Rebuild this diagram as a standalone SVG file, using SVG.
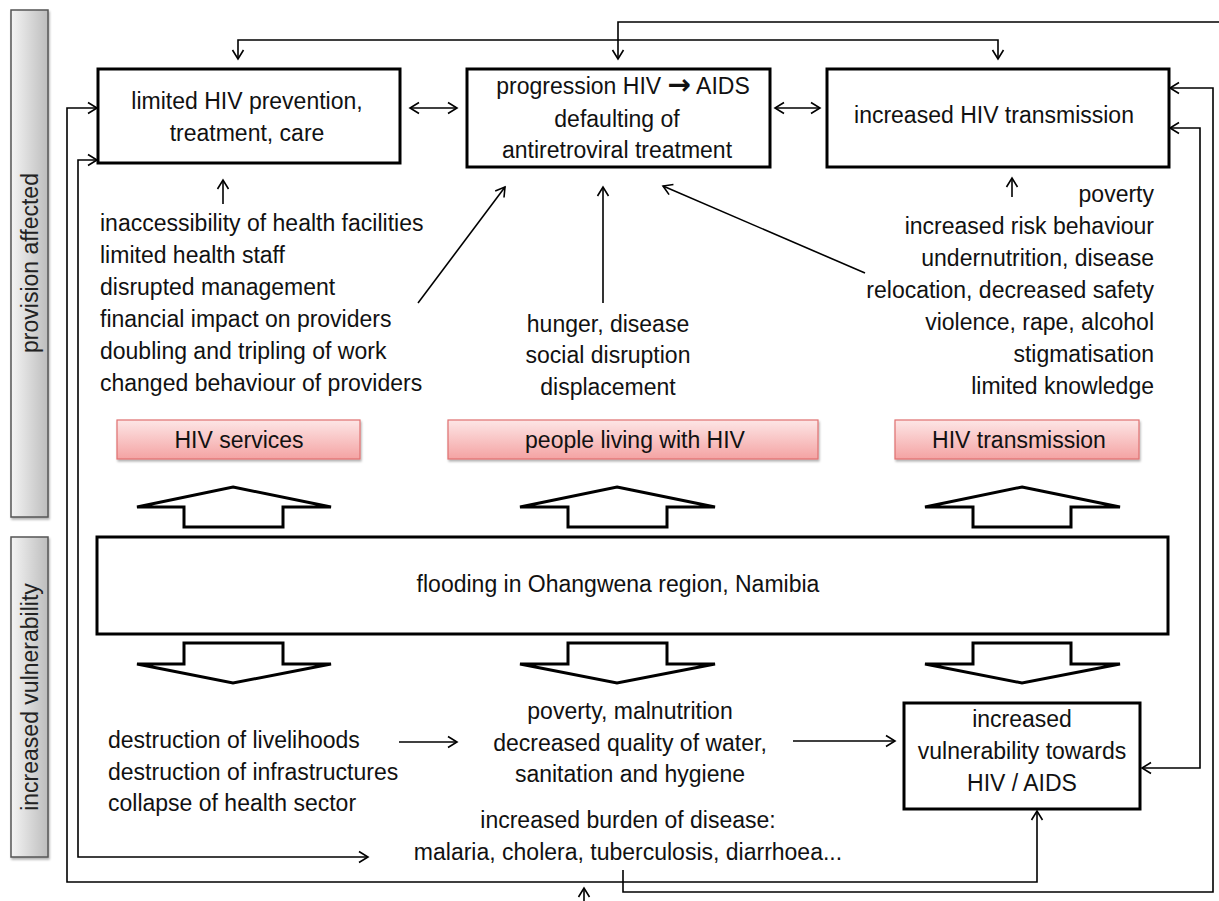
<svg xmlns="http://www.w3.org/2000/svg" width="1219" height="901" viewBox="0 0 1219 901">
<style>
  text { font-family: "Liberation Sans", Arial, Helvetica, sans-serif; font-size: 23px; fill: #111; }
  .c { text-anchor: middle; }
  .r { text-anchor: end; }
  .sym { font-family: "DejaVu Sans", sans-serif; font-weight: bold; font-size: 28px; }
  .box { fill: #fff; stroke: #000; stroke-width: 3; }
  .blk { fill: #fff; stroke: #000; stroke-width: 3; stroke-linejoin: miter; }
  .pink { fill: url(#pinkGrad); stroke: #e07070; stroke-width: 1.2; filter: url(#shadow); }
  .bar { fill: url(#grayGrad); stroke: #555; stroke-width: 1.5; filter: url(#shadow); }
  .conn { fill: none; stroke: #000; stroke-width: 1.6; }
  .side { fill: #222; }
</style>
<defs>
  <linearGradient id="pinkGrad" x1="0" y1="0" x2="0" y2="1">
    <stop offset="0" stop-color="#fde6e6"/>
    <stop offset="1" stop-color="#f4a3a3"/>
  </linearGradient>
  <linearGradient id="grayGrad" x1="0" y1="0" x2="1" y2="0">
    <stop offset="0" stop-color="#f4f4f4"/>
    <stop offset="1" stop-color="#bdbdbd"/>
  </linearGradient>
  <filter id="shadow" x="-20%" y="-20%" width="140%" height="140%">
    <feDropShadow dx="1" dy="2" stdDeviation="1.2" flood-color="#000" flood-opacity="0.3"/>
  </filter>
  <marker id="ah" viewBox="-11 -7 13 14" markerWidth="13" markerHeight="14" refX="0" refY="0" orient="auto-start-reverse" markerUnits="userSpaceOnUse">
    <path d="M-9,-5.5 L0,0 L-9,5.5" fill="none" stroke="#000" stroke-width="1.6"/>
  </marker>
</defs>

<!-- side labels -->
<g id="side-provision">
  <rect class="bar" x="11" y="10" width="37" height="507"/>
  <text class="c side" transform="translate(38,263) rotate(-90)">provision affected</text>
</g>
<g id="side-vulnerability">
  <rect class="bar" x="11" y="537" width="37" height="320"/>
  <text class="c side" transform="translate(38,697) rotate(-90)">increased vulnerability</text>
</g>

<!-- connectors -->
<g id="connectors">
  <path class="conn" d="M1219,22 H618 V59" marker-end="url(#ah)"/>
  <path class="conn" d="M238,59 V40 H998 V59" marker-start="url(#ah)" marker-end="url(#ah)"/>
  <path class="conn" d="M410,108 H457" marker-start="url(#ah)" marker-end="url(#ah)"/>
  <path class="conn" d="M775,108 H820" marker-start="url(#ah)" marker-end="url(#ah)"/>
  <path class="conn" d="M97,108 H67 V882 H1037 V811" marker-start="url(#ah)" marker-end="url(#ah)"/>
  <path class="conn" d="M97,160 H78 V857 H368" marker-start="url(#ah)" marker-end="url(#ah)"/>
  <path class="conn" d="M1170,128 H1200 V768 H1142" marker-start="url(#ah)" marker-end="url(#ah)"/>
  <path class="conn" d="M1170,88 H1213 V892 H623 V870" marker-start="url(#ah)"/>
  <path class="conn" d="M418,303 L505,187" marker-end="url(#ah)"/>
  <path class="conn" d="M603,303 V187" marker-end="url(#ah)"/>
  <path class="conn" d="M865,273 L663,186" marker-end="url(#ah)"/>
  <path class="conn" d="M223,204 V180" marker-end="url(#ah)"/>
  <path class="conn" d="M1012,197 V178" marker-end="url(#ah)"/>
  <path class="conn" d="M399,742 H457" marker-end="url(#ah)"/>
  <path class="conn" d="M793,741 H895" marker-end="url(#ah)"/>
  <path class="conn" d="M584,901 V888" marker-end="url(#ah)"/>
</g>

<!-- top boxes -->
<g id="box-limited">
  <rect class="box" x="98" y="69" width="302" height="94"/>
  <text class="c" x="247" y="109">limited HIV prevention,</text>
  <text class="c" x="247" y="141">treatment, care</text>
</g>
<g id="box-progression">
  <rect class="box" x="467" y="69" width="303" height="98"/>
  <text class="c" x="623" y="94">progression HIV <tspan class="sym">→</tspan> AIDS</text>
  <text class="c" x="617" y="127">defaulting of</text>
  <text class="c" x="617" y="158">antiretroviral treatment</text>
</g>
<g id="box-transmission">
  <rect class="box" x="827" y="69" width="342" height="98"/>
  <text class="c" x="994" y="123">increased HIV transmission</text>
</g>

<!-- factor lists -->
<g id="list-services">
  <text x="100" y="231">inaccessibility of health facilities</text>
  <text x="100" y="263">limited health staff</text>
  <text x="100" y="295">disrupted management</text>
  <text x="100" y="327">financial impact on providers</text>
  <text x="100" y="359">doubling and tripling of work</text>
  <text x="100" y="391">changed behaviour of providers</text>
</g>
<g id="list-people">
  <text class="c" x="608" y="332">hunger, disease</text>
  <text class="c" x="608" y="363">social disruption</text>
  <text class="c" x="608" y="395">displacement</text>
</g>
<g id="list-transmission">
  <text class="r" x="1154" y="202">poverty</text>
  <text class="r" x="1154" y="234">increased risk behaviour</text>
  <text class="r" x="1154" y="266">undernutrition, disease</text>
  <text class="r" x="1154" y="298">relocation, decreased safety</text>
  <text class="r" x="1154" y="330">violence, rape, alcohol</text>
  <text class="r" x="1154" y="362">stigmatisation</text>
  <text class="r" x="1154" y="394">limited knowledge</text>
</g>

<!-- pink category labels -->
<g id="cat-services">
  <rect class="pink" x="117" y="420" width="243" height="39"/>
  <text class="c" x="239" y="448">HIV services</text>
</g>
<g id="cat-people">
  <rect class="pink" x="448" y="420" width="370" height="39"/>
  <text class="c" x="635" y="448">people living with HIV</text>
</g>
<g id="cat-transmission">
  <rect class="pink" x="895" y="420" width="244" height="39"/>
  <text class="c" x="1019" y="448">HIV transmission</text>
</g>

<!-- block arrows -->
<g id="block-arrows">
  <path class="blk" d="M233,487 L331,507 H283 V527 H184 V507 H137 Z"/>
  <path class="blk" d="M617,487 L715,507 H667 V527 H568 V507 H520 Z"/>
  <path class="blk" d="M1022,487 L1120,507 H1071 V527 H973 V507 H925 Z"/>
  <path class="blk" d="M184,643 H283 V664 H331 L233,683 L137,664 H184 Z"/>
  <path class="blk" d="M568,643 H667 V664 H715 L617,683 L520,664 H568 Z"/>
  <path class="blk" d="M973,643 H1071 V664 H1120 L1022,683 L925,664 H973 Z"/>
</g>

<g id="box-flooding">
  <rect class="box" x="97" y="537" width="1071" height="97"/>
  <text class="c" x="618" y="592">flooding in Ohangwena region, Namibia</text>
</g>

<!-- bottom -->
<g id="list-destruction">
  <text x="108" y="748">destruction of livelihoods</text>
  <text x="108" y="780">destruction of infrastructures</text>
  <text x="108" y="811">collapse of health sector</text>
</g>
<g id="list-consequences">
  <text class="c" x="630" y="719">poverty, malnutrition</text>
  <text class="c" x="630" y="751">decreased quality of water,</text>
  <text class="c" x="630" y="782">sanitation and hygiene</text>
</g>
<g id="list-disease">
  <text class="c" x="628" y="828">increased burden of disease:</text>
  <text class="c" x="628" y="860">malaria, cholera, tuberculosis, diarrhoea...</text>
</g>
<g id="box-vulnerability">
  <rect class="box" x="904" y="703" width="236" height="106"/>
  <text class="c" x="1022" y="727">increased</text>
  <text class="c" x="1022" y="759">vulnerability towards</text>
  <text class="c" x="1022" y="791">HIV / AIDS</text>
</g>
</svg>
